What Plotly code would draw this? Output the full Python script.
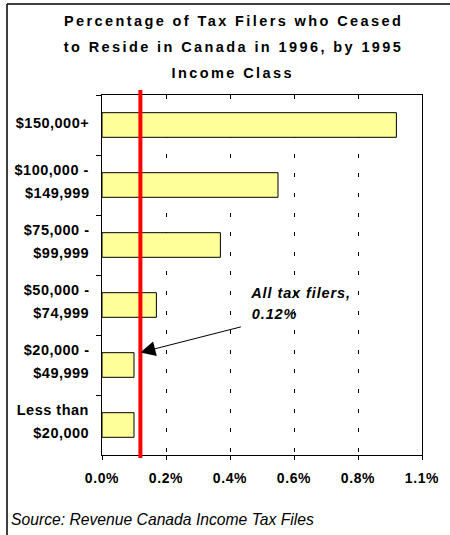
import plotly.graph_objects as go

# ---- data ----
categories = ["$150,000+", "$100,000 - $149,999", "$75,000 - $99,999",
              "$50,000 - $74,999", "$20,000 - $49,999", "Less than $20,000"]
label_line1 = ["$150,000+", "$100,000 -", "$75,000 -", "$50,000 -", "$20,000 -", "Less than"]
label_line2 = ["", "$149,999", "$99,999", "$74,999", "$49,999", "$20,000"]
values = [0.92, 0.55, 0.37, 0.17, 0.10, 0.10]   # percent
all_filers = 0.12                               # percent
x_tickvals = [0.0, 0.2, 0.4, 0.6, 0.8, 1.0]
x_ticktext = ["0.0%", "0.2%", "0.4%", "0.6%", "0.8%", "1.1%"]
title_lines = ["Percentage of Tax Filers who Ceased",
               "to Reside in Canada in 1996, by 1995",
               "Income Class"]
source_text = "Source: Revenue Canada Income Tax Files"

FONT = "Liberation Sans, Arial, sans-serif"
W, H = 450, 535
ML, MR, MT, MB = 102, 28, 95, 80
PW, PH = W - ML - MR, H - MT - MB


def px_to_paper_x(px):
    return (px - ML) / PW


def px_to_paper_y(py):
    return (H - MB - py) / PH


fig = go.Figure()
fig.add_trace(go.Bar(
    x=values, y=categories, orientation="h",
    marker=dict(color="#FFFF99", line=dict(color="#000000", width=1)),
    hoverinfo="x+y",
))

annotations = []
# title lines
for i, t in enumerate(title_lines):
    annotations.append(dict(
        text=f"<b>{t}</b>", xref="paper", yref="paper",
        x=px_to_paper_x(233), y=px_to_paper_y(21 + 26 * i),
        xanchor="center", yanchor="middle", showarrow=False,
        font=dict(family=FONT, size=14.5, color="#000000")))
# category labels
for cat, l1, l2 in zip(categories, label_line1, label_line2):
    if l2:
        lines = [(l1, 15), (l2, -8)]
    else:
        lines = [(l1, 2)]
    for txt, ys in lines:
        annotations.append(dict(
            text=f"<b>{txt}</b>", xref="paper", yref="y",
            x=0, y=cat, xanchor="right", yanchor="middle", xshift=-13, yshift=ys,
            showarrow=False, font=dict(family=FONT, size=14.5, color="#000000")))
n_label_ann = sum(2 if l2 else 1 for l2 in label_line2)
# callout text
callout = ["All tax filers,", f"{all_filers:.2f}%"]
for i, t in enumerate(callout):
    annotations.append(dict(
        text=f"<b><i>{t}</i></b>", xref="paper", yref="paper",
        x=px_to_paper_x(255 if i == 0 else 252), y=px_to_paper_y(293 + 21 * i),
        xanchor="left", yanchor="middle", showarrow=False,
        font=dict(family=FONT, size=14.5, color="#000000")))
# arrow
annotations.append(dict(
    text="", xref="x", yref="paper", x=all_filers, y=px_to_paper_y(352.5),
    ax=102, ay=-26, axref="pixel", ayref="pixel",
    showarrow=True, arrowhead=2, arrowsize=3, arrowwidth=1, arrowcolor="#000000",
    standoff=0))
# source
annotations.append(dict(
    text=f"<i>{source_text}</i>", xref="paper", yref="paper",
    x=px_to_paper_x(9), y=px_to_paper_y(519), xanchor="left", yanchor="middle",
    showarrow=False, font=dict(family=FONT, size=15.7, color="#000000")))

shapes = [
    # all filers reference line
    dict(type="line", xref="x", yref="paper", x0=all_filers, x1=all_filers,
         y0=px_to_paper_y(458), y1=px_to_paper_y(90),
         line=dict(color="#FF0000", width=4), layer="above"),
    # outer frame (left and top edges)
    dict(type="line", xref="paper", yref="paper",
         x0=px_to_paper_x(7), x1=px_to_paper_x(7),
         y0=px_to_paper_y(4), y1=px_to_paper_y(535),
         line=dict(color="#000000", width=1.5)),
    dict(type="line", xref="paper", yref="paper",
         x0=px_to_paper_x(7), x1=px_to_paper_x(450),
         y0=px_to_paper_y(4), y1=px_to_paper_y(4),
         line=dict(color="#000000", width=1.5)),
]

fig.update_layout(
    width=W, height=H, autosize=False,
    margin=dict(l=ML, r=MR, t=MT, b=MB, pad=0),
    paper_bgcolor="#FFFFFF", plot_bgcolor="#FFFFFF",
    showlegend=False, bargap=0.59,
    font=dict(family=FONT, color="#000000"),
    annotations=annotations, shapes=shapes,
    xaxis=dict(range=[0, 1.0], tickvals=x_tickvals, ticktext=x_ticktext,
               showgrid=True, gridcolor="#000000", gridwidth=1, griddash="4px,15.6px",
               zeroline=False, showline=True, linecolor="#000000", linewidth=1,
               mirror=True, ticks="outside", ticklen=4, tickcolor="#000000",
               ticklabelstandoff=6,
               tickfont=dict(family=FONT, size=14, color="#000000", weight="bold")),
    yaxis=dict(autorange="reversed", showticklabels=False, showgrid=False,
               zeroline=False, showline=True, linecolor="#000000", linewidth=1,
               mirror=True, ticks="outside", ticklen=5, tickcolor="#000000",
               tickson="boundaries"),
)

# page without default body margin; emulate the wide letter spacing of the original
post = """
document.body.style.margin = '0';
document.body.style.overflow = 'hidden';
var gd = document.getElementById('{plot_id}');
gd.querySelectorAll('.annotation').forEach(function(a){
  var idx = parseInt(a.getAttribute('data-index'));
  var t = a.querySelector('text');
  if(!t) return;
  if(idx < 3){ t.style.letterSpacing = '2.4px'; }
  else if(idx < %d){ t.style.letterSpacing = '0.5px'; }
  else if(idx < %d){ t.style.letterSpacing = '0.9px'; }
});
gd.querySelectorAll('.xtick text').forEach(function(t){ t.style.letterSpacing = '0.6px'; });
""" % (3 + n_label_ann, 3 + n_label_ann + 2)

fig.write_html("out.html", post_script=post, config={"displayModeBar": False})
